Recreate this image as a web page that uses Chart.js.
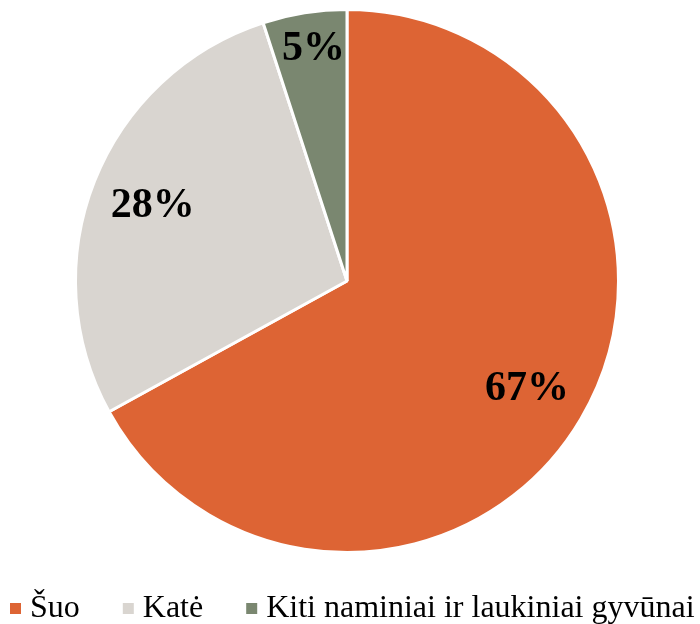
<!DOCTYPE html>
<html lang="lt">
<head>
  <meta charset="UTF-8">
  <title>Augintiniai</title>
  <script src="https://cdn.jsdelivr.net/npm/chart.js"></script>
  <style>
    body {
      margin: 0;
      background: #ffffff;
    }
    .wrap {
      width: 700px;
      height: 624px;
    }
  </style>
</head>
<body>
  <div class="wrap">
    <canvas id="pie" width="700" height="624"></canvas>
  </div>

  <script>
    const labels = ['Šuo', 'Katė', 'Kiti naminiai ir laukiniai gyvūnai'];
    const values = [67, 28, 5];
    const colors = ['#dd6434', '#d9d5d0', '#7a8770'];

    const serif = '"Liberation Serif", "Times New Roman", serif';

    // draws the percentage labels inside the slices
    const sliceLabels = {
      id: 'sliceLabels',
      afterDatasetsDraw(chart, args, opts) {
        const ctx = chart.ctx;
        const meta = chart.getDatasetMeta(0);
        const total = values.reduce((a, b) => a + b, 0);
        ctx.save();
        ctx.font = 'bold 42px ' + serif;
        ctx.fillStyle = '#000';
        ctx.textAlign = 'center';
        ctx.textBaseline = 'middle';
        meta.data.forEach((arc, i) => {
          const mid = (arc.startAngle + arc.endAngle) / 2 + opts.turn[i];
          const dist = arc.outerRadius * opts.dist[i];
          const x = arc.x + Math.cos(mid) * dist;
          const y = arc.y + Math.sin(mid) * dist;
          ctx.fillText(Math.round(values[i] / total * 100) + '%', x, y + 2);
        });
        ctx.restore();
      }
    };

    // one-line legend along the bottom, like the office chart
    const bottomLegend = {
      id: 'bottomLegend',
      afterDraw(chart, args, opts) {
        const ctx = chart.ctx;
        ctx.save();
        ctx.font = '32px ' + serif;
        ctx.textBaseline = 'alphabetic';
        ctx.textAlign = 'left';
        let x = opts.left;
        chart.data.labels.forEach((lab, i) => {
          ctx.fillStyle = colors[i];
          ctx.fillRect(x, opts.baseline - 14, opts.box, opts.box);
          x += opts.box + opts.gap;
          ctx.fillStyle = '#000';
          ctx.fillText(lab, x, opts.baseline);
          x += ctx.measureText(lab).width + opts.spacing;
        });
        ctx.restore();
      }
    };

    new Chart(document.getElementById('pie'), {
      type: 'pie',
      data: {
        labels: labels,
        datasets: [{
          data: values,
          backgroundColor: colors,
          borderColor: '#ffffff',
          borderWidth: 3
        }]
      },
      options: {
        responsive: false,
        animation: false,
        layout: {
          padding: { top: 8, right: 6, left: 0, bottom: 70 }
        },
        plugins: {
          tooltip: { enabled: false },
          legend: { display: false },
          sliceLabels: { dist: [0.77, 0.77, 0.87], turn: [0, 0, 0.015] },
          bottomLegend: { left: 10, baseline: 617, box: 11, gap: 9, spacing: 43 }
        }
      },
      plugins: [sliceLabels, bottomLegend]
    });
  </script>
</body>
</html>
